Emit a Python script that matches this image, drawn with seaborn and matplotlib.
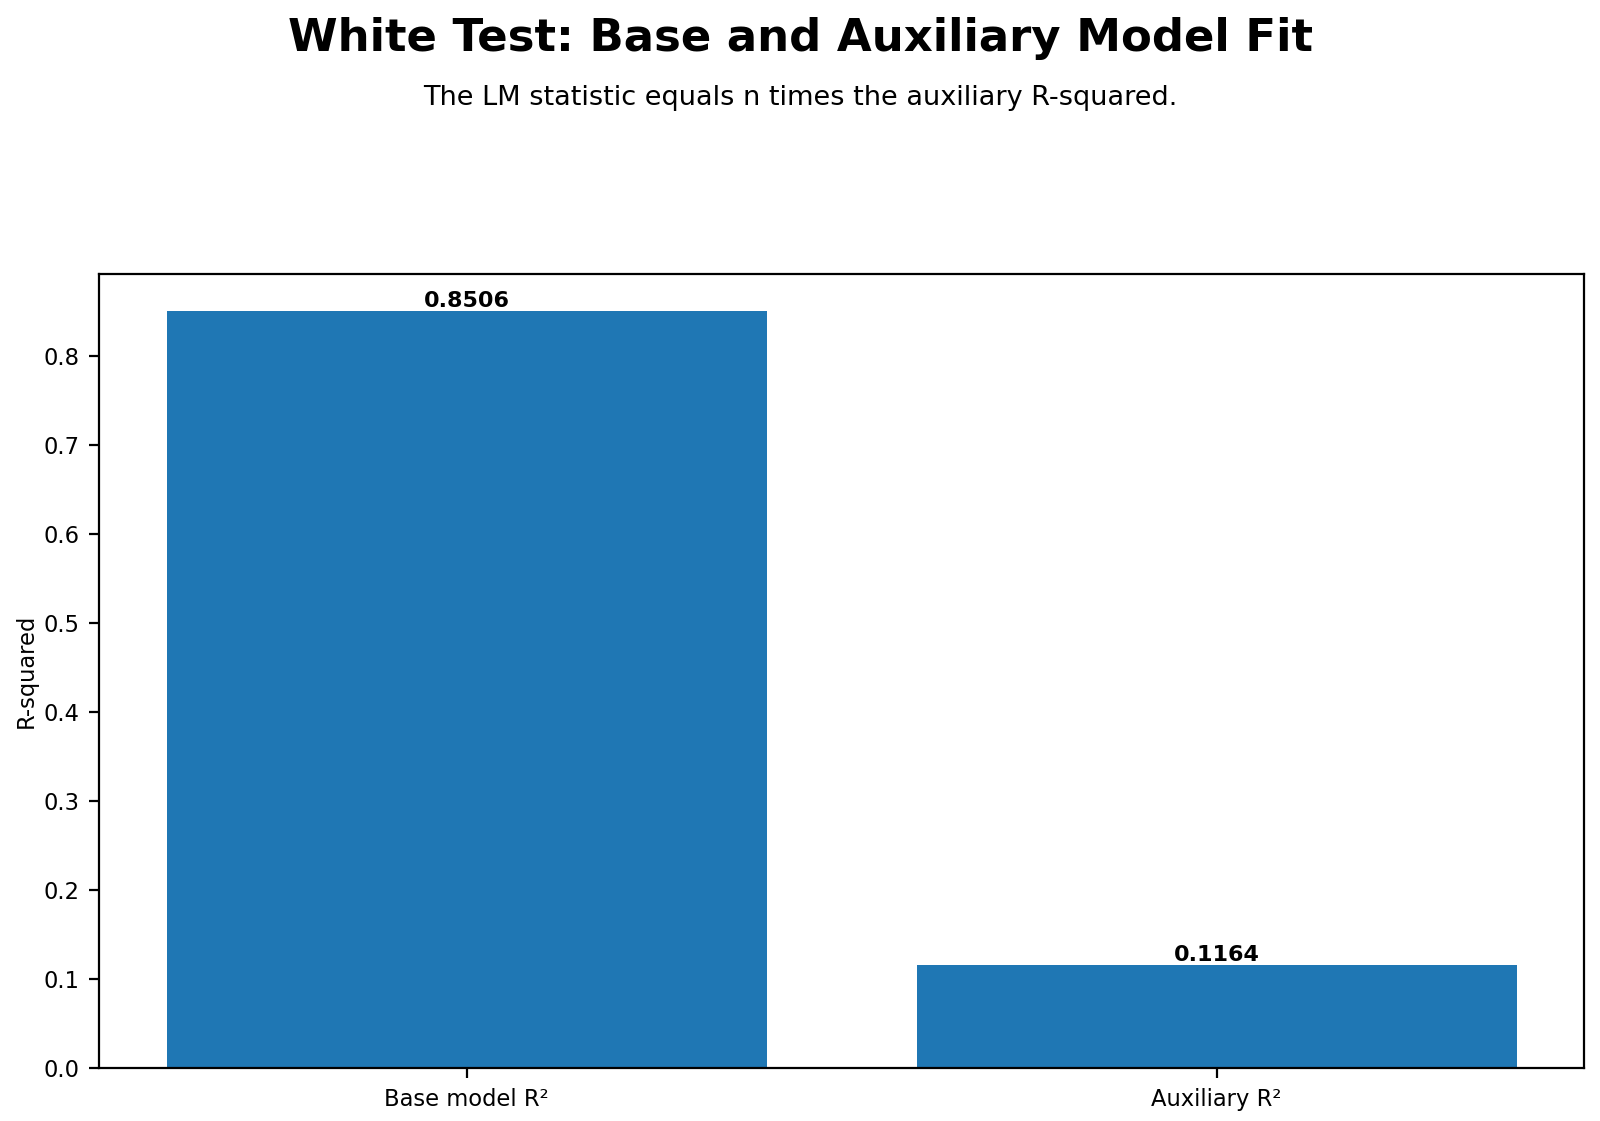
import matplotlib
matplotlib.use("Agg")
import matplotlib.pyplot as plt
import seaborn as sns
import pandas as pd

categories = ["Base model R²", "Auxiliary R²"]
values = [0.8506, 0.1164]
labels = ["0.8506", "0.1164"]

df = pd.DataFrame({"cat": categories, "val": values})

fig = plt.figure(figsize=(8, 5.605), dpi=200)
ax = fig.add_axes([0.062, 0.047, 0.928, 0.709])
sns.barplot(data=df, x="cat", y="val", color="#1f77b4", saturation=1, width=0.8, ax=ax)
ax.set_xlim(-0.49, 1.49)
for p, lab in zip(ax.patches, labels):
    ax.text(p.get_x() + p.get_width() / 2, p.get_height(), lab,
            ha="center", va="bottom", fontsize=8, fontweight="bold")
ax.set_xlabel("")
ax.set_ylabel("R-squared", fontsize=8.15, labelpad=2.2)
ax.tick_params(labelsize=8.15)
fig.suptitle("White Test: Base and Auxiliary Model Fit", fontsize=16.2, fontweight="bold", y=0.985)
fig.text(0.5, 0.906, "The LM statistic equals n times the auxiliary R-squared.", ha="center", fontsize=9.75)
fig.savefig("out.png", dpi=200)
